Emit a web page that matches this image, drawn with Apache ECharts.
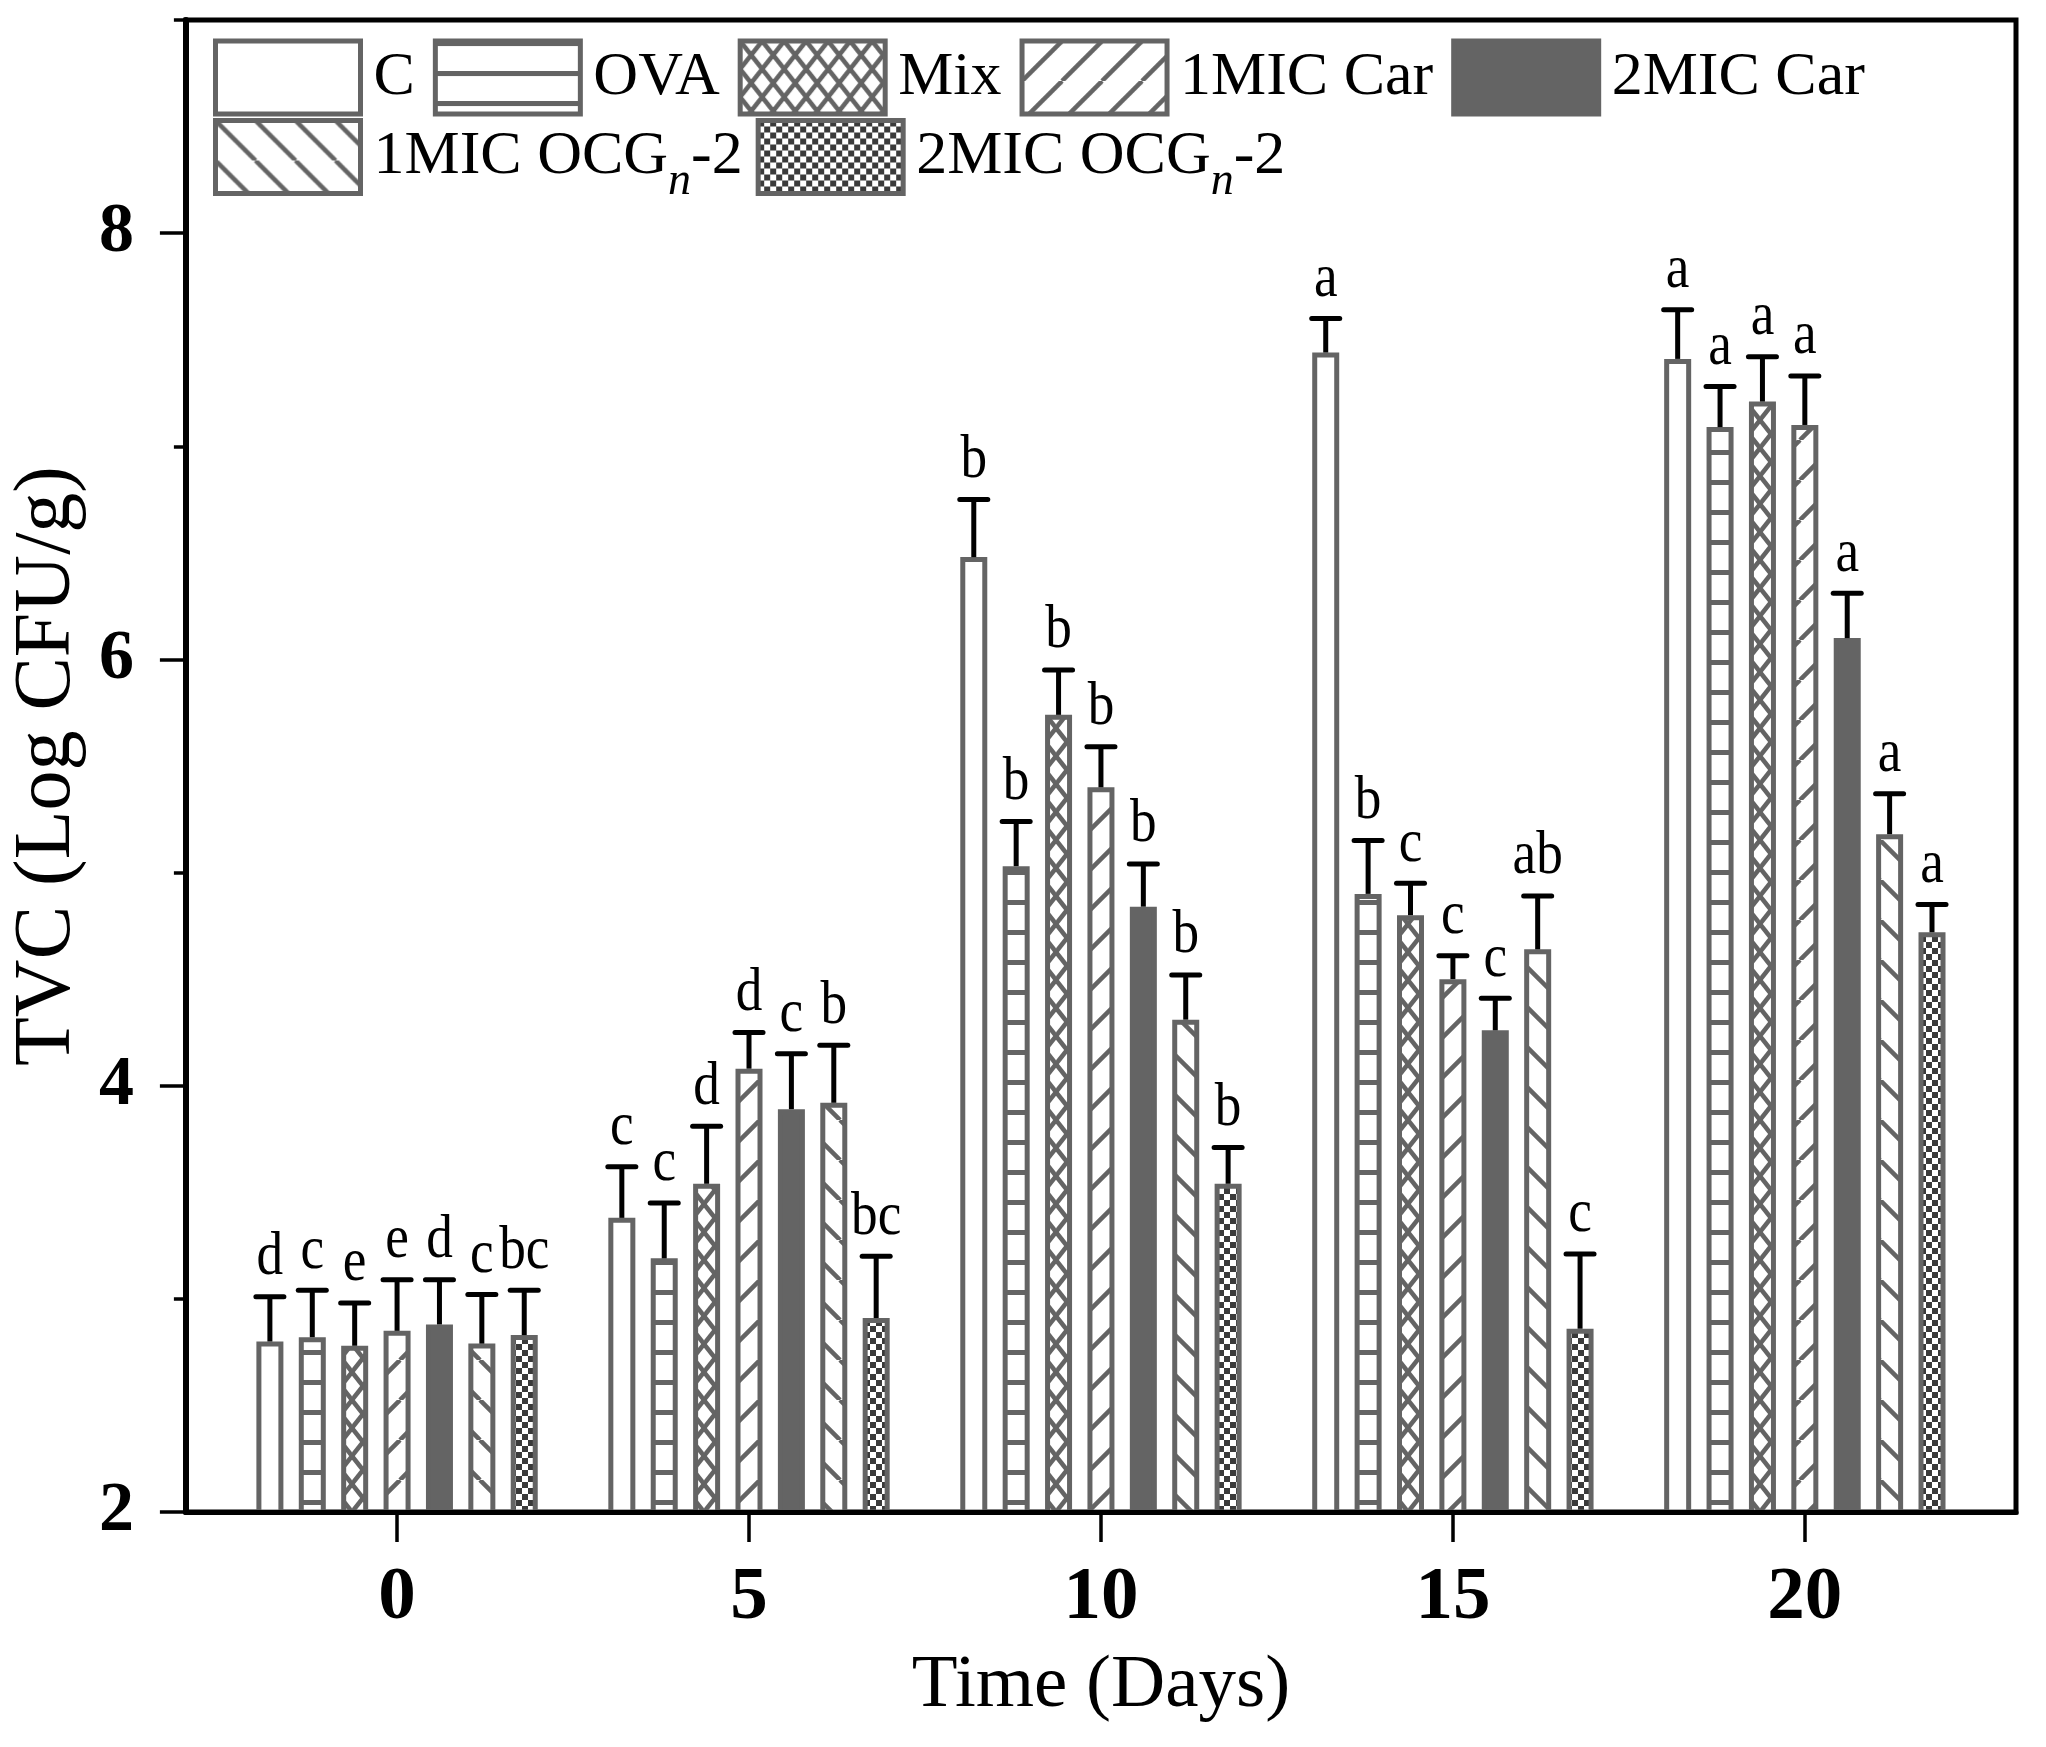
<!DOCTYPE html>
<html lang="en">
<head>
<meta charset="UTF-8">
<title>TVC</title>
<style>
    html, body { margin: 0; padding: 0; background: #fff; }
    #container { width: 2046px; height: 1747px; }
</style>
</head>
<body>
<div id="container"></div>
<script src="https://cdn.jsdelivr.net/npm/echarts@6/dist/echarts.min.js"></script>
<script type="text/javascript">
    // data
    var days = [0, 5, 10, 15, 20];
    var names = ['C', 'OVA', 'Mix', '1MIC Car', '2MIC Car', '1MIC OCGn-2', '2MIC OCGn-2'];

    var valC      = [2.80, 3.38, 6.48, 7.44, 7.41];
    var valOVA    = [2.82, 3.19, 5.03, 4.90, 7.09];
    var valMix    = [2.78, 3.54, 5.74, 4.80, 7.21];
    var val1Car   = [2.85, 4.08, 5.40, 4.50, 7.10];
    var val2Car   = [2.88, 3.89, 4.84, 4.26, 6.10];
    var val1OCG   = [2.79, 3.92, 4.31, 4.64, 5.18];
    var val2OCG   = [2.83, 2.91, 3.54, 2.86, 4.72];

    var errC      = [0.21, 0.24, 0.27, 0.16, 0.23];
    var errOVA    = [0.22, 0.26, 0.21, 0.25, 0.19];
    var errMix    = [0.20, 0.27, 0.21, 0.15, 0.21];
    var err1Car   = [0.24, 0.17, 0.19, 0.11, 0.23];
    var err2Car   = [0.21, 0.26, 0.20, 0.15, 0.21];
    var err1OCG   = [0.23, 0.27, 0.21, 0.25, 0.19];
    var err2OCG   = [0.21, 0.29, 0.17, 0.35, 0.13];

    var letC      = ['d', 'c', 'b', 'a', 'a'];
    var letOVA    = ['c', 'c', 'b', 'b', 'a'];
    var letMix    = ['e', 'd', 'b', 'c', 'a'];
    var let1Car   = ['e', 'd', 'b', 'c', 'a'];
    var let2Car   = ['d', 'c', 'b', 'c', 'a'];
    var let1OCG   = ['c', 'b', 'b', 'ab', 'a'];
    var let2OCG   = ['bc', 'bc', 'b', 'c', 'a'];

    var yTicks = [2, 4, 6, 8];
    var xTicks = [0, 5, 10, 15, 20];

    var values = [valC, valOVA, valMix, val1Car, val2Car, val1OCG, val2OCG];
    var errors = [errC, errOVA, errMix, err1Car, err2Car, err1OCG, err2OCG];
    var letters = [letC, letOVA, letMix, let1Car, let2Car, let1OCG, let2OCG];

    var FONT = "'Liberation Serif', 'Times New Roman', serif";
    var GRAY = '#646464';
    var BAR_W = 27;
    var BAR_GAP = 0.57;
    var BAR_STEP = BAR_W * (1 + BAR_GAP);

    // fill patterns
    function tile(w, h, draw) {
        var c = document.createElement('canvas');
        c.width = w; c.height = h;
        var ctx = c.getContext('2d');
        ctx.fillStyle = '#fff';
        ctx.fillRect(0, 0, w, h);
        ctx.strokeStyle = GRAY;
        ctx.fillStyle = GRAY;
        draw(ctx, w, h);
        return { image: c, repeat: 'repeat' };
    }
    function slash(ctx, w, h, lw) {
        ctx.lineWidth = lw;
        for (var i = -1; i <= 1; i++) {
            ctx.beginPath(); ctx.moveTo(i * w, h); ctx.lineTo(i * w + w, 0); ctx.stroke();
        }
    }
    function backslash(ctx, w, h, lw) {
        ctx.lineWidth = lw;
        for (var i = -1; i <= 1; i++) {
            ctx.beginPath(); ctx.moveTo(i * w, 0); ctx.lineTo(i * w + w, h); ctx.stroke();
        }
    }
    var fills = [
        '#ffffff',
        tile(30, 30, function (ctx, w) { ctx.fillRect(0, 0, w, 5); }),
        tile(22, 28, function (ctx, w, h) { slash(ctx, w, h, 4.5); backslash(ctx, w, h, 4.5); }),
        tile(40, 40, function (ctx, w, h) { slash(ctx, w, h, 4.5); }),
        GRAY,
        tile(40, 40, function (ctx, w, h) { backslash(ctx, w, h, 4.5); }),
        tile(12, 12, function (ctx) {
            ctx.fillStyle = '#3a3a3a';
            ctx.fillRect(0, 0, 6, 6); ctx.fillRect(6, 6, 6, 6);
        })
    ];

    var series = names.map(function (n, s) {
        return {
            name: n,
            type: 'bar',
            barWidth: BAR_W,
            barGap: (BAR_GAP * 100) + '%',
            z: 2,
            itemStyle: { color: fills[s], borderColor: GRAY, borderWidth: 5 },
            emphasis: { disabled: true },
            data: days.map(function (d, i) { return [d, values[s][i]]; })
        };
    });

    var errData = [];
    names.forEach(function (n, s) {
        days.forEach(function (d, i) {
            errData.push([d, values[s][i], errors[s][i], s, i]);
        });
    });

    series.push({
        name: 'err',
        type: 'custom',
        z: 4,
        silent: true,
        encode: { x: 0, y: 1 },
        data: errData,
        renderItem: function (params, api) {
            var day = api.value(0), v = api.value(1), e = api.value(2);
            var s = api.value(3), i = api.value(4);
            var base = api.coord([day, v]);
            var top = api.coord([day, v + e]);
            var x = base[0] + (s - 3) * BAR_STEP;
            return {
                type: 'group',
                children: [
                    { type: 'line', shape: { x1: x, y1: base[1], x2: x, y2: top[1] },
                      style: { stroke: '#000', lineWidth: 5 } },
                    { type: 'line', shape: { x1: x - 14, y1: top[1], x2: x + 14, y2: top[1] },
                      style: { stroke: '#000', lineWidth: 5, lineCap: 'round' } },
                    { type: 'text', x: x, y: top[1] - 8, scaleX: 0.95, scaleY: 1.1,
                      style: { text: letters[s][i], fill: '#000', fontFamily: FONT, fontSize: 56,
                               align: 'center', verticalAlign: 'bottom' } }
                ]
            };
        }
    });

    var legendBase = {
        left: 213,
        padding: 0,
        icon: 'rect',
        itemWidth: 145,
        itemHeight: 73,
        selectedMode: false,
        itemStyle: { borderWidth: 5, borderColor: GRAY },
        textStyle: {
            fontFamily: FONT, fontSize: 62, color: '#000', padding: [0, 0, 0, 8],
            rich: { sub: { fontFamily: FONT, fontSize: 46, fontStyle: 'italic', color: '#000', padding: [50, 0, 0, 0] } }
        },
        formatter: function (name) { return name.replace('OCGn-2', 'OCG{sub|n}-2'); }
    };

    var option = {
        animation: false,
        backgroundColor: '#fff',
        textStyle: { fontFamily: FONT },
        grid: { left: 180, right: 30, top: 20, bottom: 235, show: true, borderColor: '#000', borderWidth: 5 },
        legend: [
            Object.assign({}, legendBase, { top: 38.5, itemGap: 18, data: names.slice(0, 5) }),
            Object.assign({}, legendBase, { top: 118, itemGap: 13, data: names.slice(5) })
        ],
        xAxis: {
            type: 'value',
            min: -3,
            max: 23,
            z: 3,
            name: 'Time (Days)',
            nameLocation: 'middle',
            nameGap: 137,
            nameTextStyle: { fontFamily: FONT, fontSize: 75, color: '#000' },
            splitLine: { show: false },
            axisLine: { onZero: false, lineStyle: { color: '#000', width: 5 } },
            axisTick: { customValues: xTicks, length: 30, lineStyle: { color: '#000', width: 3.5 } },
            axisLabel: { customValues: xTicks, margin: 49, fontFamily: FONT, fontSize: 75, fontWeight: 'bold', color: '#000' }
        },
        yAxis: [
            {
                type: 'value',
                min: 2,
                max: 9,
                interval: 1,
                name: 'TVC (Log CFU/g)',
                nameLocation: 'middle',
                nameGap: 95,
                nameTextStyle: { fontFamily: FONT, fontSize: 80, color: '#000' },
                splitLine: { show: false },
                axisLine: { onZero: false, lineStyle: { color: '#000', width: 6 } },
                axisTick: { length: 12, lineStyle: { color: '#000', width: 3.5 } },
                axisLabel: {
                    margin: 52, fontFamily: FONT, fontSize: 70, fontWeight: 'bold', color: '#000',
                    formatter: function (v) { return yTicks.indexOf(v) >= 0 ? String(v) : ''; }
                }
            },
            {
                type: 'value',
                position: 'left',
                min: 2,
                max: 9,
                interval: 1,
                splitLine: { show: false },
                axisLine: { show: false, onZero: false },
                axisLabel: { show: false },
                axisTick: { customValues: yTicks, length: 26, lineStyle: { color: '#000', width: 3.5 } }
            }
        ],
        series: series
    };

    var chart = echarts.init(document.getElementById('container'), null, { renderer: 'canvas' });
    chart.setOption(option);
</script>
</body>
</html>
